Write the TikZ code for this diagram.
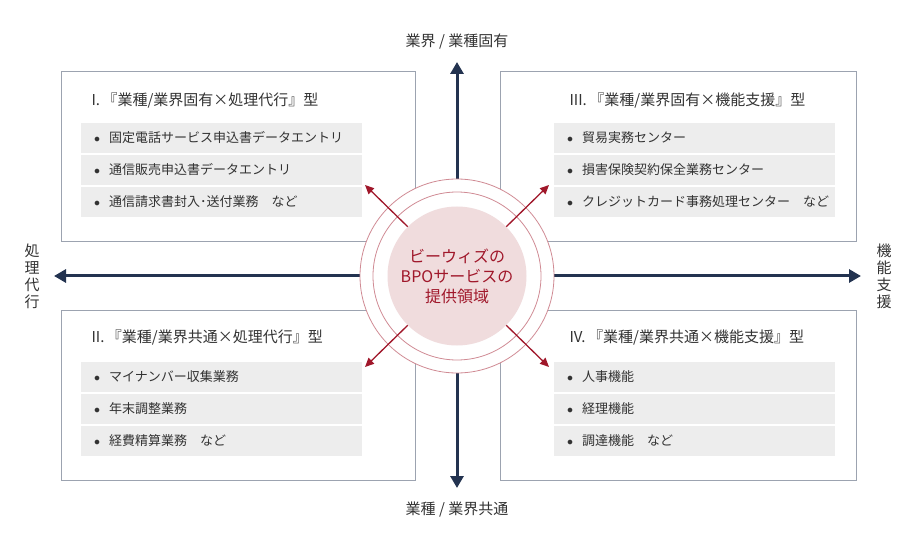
\documentclass[tikz,border=0pt]{standalone}
\usepackage{fontspec}
\setmainfont{Noto Sans CJK JP}
\usetikzlibrary{arrows.meta}
\definecolor{navy}{HTML}{233350}
\definecolor{wine}{HTML}{A0172A}
\definecolor{rowgray}{HTML}{EDEDED}
\definecolor{ink}{HTML}{333333}
\definecolor{pink}{HTML}{F0DCDD}
\begin{document}
\begin{tikzpicture}[x=1pt,y=-1pt,font=\fontsize{13}{16}\selectfont,text=ink,
                    quad/.style={draw=navy!45,fill=white,line width=0.8pt},
                    row node/.style={fill=rowgray,minimum width=281pt,minimum height=30pt,anchor=west,text width=275pt,inner xsep=3pt},
                    title node/.style={font=\fontsize{15}{17}\selectfont,anchor=west},
                    axis/.style={navy,line width=3pt,-{Triangle[length=12pt,width=13pt]}},
                    reach/.style={wine,line width=1.3pt,-{Triangle[length=9pt,width=8pt]}}]
\useasboundingbox (0,0) rectangle (916,548);
% quadrants
\draw[quad] (61,71) rectangle (415,241);
\draw[quad] (500,71) rectangle (856,241);
\draw[quad] (61,310) rectangle (415,480);
\draw[quad] (500,310) rectangle (856,480);

\node[title node] (t1) at (88,100) {I.\,『業種/業界固有×処理代行』型};
\node[title node] (t3) at (566,100) {III.\,『業種/業界固有×機能支援』型};
\node[title node] (t2) at (88,337) {II.\,『業種/業界共通×処理代行』型};
\node[title node] (t4) at (566,337) {IV.\,『業種/業界共通×機能支援』型};

\node[row node] (a1) at (81,138) {\hspace{10pt}$\bullet$\hspace{9pt}固定電話サービス申込書データエントリ};
\node[row node] (a2) at (81,170) {\hspace{10pt}$\bullet$\hspace{9pt}通信販売申込書データエントリ};
\node[row node] (a3) at (81,202) {\hspace{10pt}$\bullet$\hspace{9pt}通信請求書封入･送付業務\quad など};
\node[row node] (b1) at (554,138) {\hspace{10pt}$\bullet$\hspace{9pt}貿易実務センター};
\node[row node] (b2) at (554,170) {\hspace{10pt}$\bullet$\hspace{9pt}損害保険契約保全業務センター};
\node[row node] (b3) at (554,202) {\hspace{10pt}$\bullet$\hspace{9pt}クレジットカード事務処理センター\quad など};
\node[row node] (c1) at (81,377) {\hspace{10pt}$\bullet$\hspace{9pt}マイナンバー収集業務};
\node[row node] (c2) at (81,409) {\hspace{10pt}$\bullet$\hspace{9pt}年末調整業務};
\node[row node] (c3) at (81,441) {\hspace{10pt}$\bullet$\hspace{9pt}経費精算業務\quad など};
\node[row node] (d1) at (554,377) {\hspace{10pt}$\bullet$\hspace{9pt}人事機能};
\node[row node] (d2) at (554,409) {\hspace{10pt}$\bullet$\hspace{9pt}経理機能};
\node[row node] (d3) at (554,441) {\hspace{10pt}$\bullet$\hspace{9pt}調達機能\quad など};

% axes
\coordinate (o) at (457,276);
\coordinate (up) at (457,62);
\coordinate (down) at (457,488);
\coordinate (left) at (54,276);
\coordinate (right) at (861,276);
\draw[axis] (o) -- (up);
\draw[axis] (o) -- (down);
\draw[axis] (o) -- (left);
\draw[axis] (o) -- (right);

\node[font=\fontsize{15}{17}\selectfont] (top) at (457,42) {業界 / 業種固有};
\node[font=\fontsize{15}{17}\selectfont] (bottom) at (457,510) {業種 / 業界共通};
\node[align=center,font=\fontsize{15}{17}\selectfont] (west) at (32,276) {処\\理\\代\\行};
\node[align=center,font=\fontsize{15}{17}\selectfont] (east) at (884,276) {機\\能\\支\\援};

% center
\draw[wine!50,fill=white,line width=0.8pt] (o) circle (97);
\draw[wine!50,line width=0.8pt] (o) circle (84);
\node[circle,fill=pink,minimum size=139pt,inner sep=0pt] (core) at (o) {};
\node[text=wine,align=center,font=\fontsize{16}{20}\selectfont] (coretext) at (o) {ビーウィズの\\BPOサービスの\\提供領域};

\coordinate (nw) at (365,185);
\coordinate (ne) at (549,185);
\coordinate (sw) at (365,367);
\coordinate (se) at (549,367);
\draw[reach] (core.135) -- (nw);
\draw[reach] (core.45) -- (ne);
\draw[reach] (core.225) -- (sw);
\draw[reach] (core.-45) -- (se);
\end{tikzpicture}
\end{document}
